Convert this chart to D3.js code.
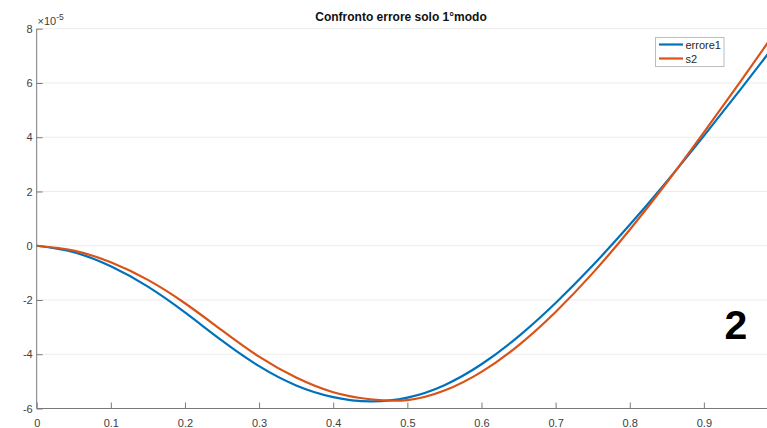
<!DOCTYPE html>
<html>
<head>
<meta charset="utf-8">
<script src="https://cdn.jsdelivr.net/npm/d3@7"></script>
<style>
  html, body { margin: 0; padding: 0; background: #fff; }
  svg { display: block; font-family: "Liberation Sans", Arial, Helvetica, sans-serif; }
</style>
</head>
<body>
<svg id="chart" width="767" height="428"></svg>
<script>
// Sample positions along the beam (normalised coordinate)
const xs = [0, 0.05, 0.1, 0.15, 0.2, 0.25, 0.3, 0.35, 0.4, 0.45, 0.5,
            0.55, 0.6, 0.65, 0.7, 0.75, 0.8, 0.85, 0.9, 0.95, 1.0];
// Error curves, in units of 1e-5
const errore1 = [0, -0.24, -0.76, -1.51, -2.46, -3.5, -4.44, -5.15, -5.58, -5.74, -5.6,
                 -5.14, -4.37, -3.34, -2.11, -0.73, 0.77, 2.37, 4.05, 5.78, 7.55];
const s2 = [0, -0.18, -0.61, -1.26, -2.12, -3.12, -4.09, -4.86, -5.4, -5.66, -5.69,
            -5.34, -4.65, -3.67, -2.44, -1.01, 0.59, 2.33, 4.18, 6.08, 8.02];
const seriesNames = ["errore1", "s2"];
const seriesColors = ["#0072BD", "#D95319"];
const xTicks = [0, 0.1, 0.2, 0.3, 0.4, 0.5, 0.6, 0.7, 0.8, 0.9];
const yTicks = [-6, -4, -2, 0, 2, 4, 6, 8];
const titleText = "Confronto errore solo 1°modo";
const panelLabel = "2";

const svg = d3.select("#chart");
const W = 767, H = 428;
const mLeft = 36.7, mTop = 28.7, mBottom = 408.5, plotRight = 778;

const x = d3.scaleLinear().domain([0, 1]).range([mLeft, plotRight]);
const y = d3.scaleLinear().domain([-6, 8]).range([mBottom, mTop]);

svg.append("rect").attr("width", W).attr("height", H).attr("fill", "#fff");

svg.append("defs").append("clipPath").attr("id", "plotClip")
  .append("rect").attr("x", mLeft).attr("y", mTop - 2)
  .attr("width", W - mLeft).attr("height", mBottom - mTop + 2);

// horizontal grid
svg.append("g")
  .selectAll("line").data(yTicks).join("line")
  .attr("x1", mLeft).attr("x2", W)
  .attr("y1", d => y(d)).attr("y2", d => y(d))
  .attr("stroke", "#ececec").attr("stroke-width", 1);

// x axis (ticks point inward)
const xAxis = svg.append("g")
  .attr("transform", `translate(0,${mBottom})`)
  .call(d3.axisBottom(x).tickValues(xTicks).tickSize(-6).tickPadding(11)
        .tickFormat(d => d === 0 ? "0" : d3.format(".1f")(d)));
xAxis.select(".domain").attr("stroke", "#7a7a7a").attr("d", `M${mLeft},0H${W}`);
xAxis.selectAll(".tick line").attr("stroke", "#7a7a7a");
xAxis.selectAll(".tick text").attr("fill", "#404040").attr("font-size", 11)
  .attr("font-family", "Liberation Sans, Arial, sans-serif");

// y axis
const yAxis = svg.append("g")
  .attr("transform", `translate(${mLeft},0)`)
  .call(d3.axisLeft(y).tickValues(yTicks).tickSize(-6).tickPadding(4)
        .tickFormat(d => d < 0 ? "-" + Math.abs(d) : String(d)));
yAxis.select(".domain").attr("stroke", "#7a7a7a").attr("d", `M0,${mTop}V${mBottom}`);
yAxis.selectAll(".tick line").attr("stroke", "#7a7a7a");
yAxis.selectAll(".tick text").attr("fill", "#404040").attr("font-size", 11)
  .attr("font-family", "Liberation Sans, Arial, sans-serif");

// exponent marker
const expo = svg.append("text").attr("x", 37.5).attr("y", 25)
  .attr("font-size", 11).attr("fill", "#404040");
expo.append("tspan").text("×10");
expo.append("tspan").attr("dy", -5).attr("font-size", 8.5).text("-5");

// curves
const line = d3.line().x((d, i) => x(xs[i])).y(d => y(d)).curve(d3.curveNatural);
const plot = svg.append("g").attr("clip-path", "url(#plotClip)");
[errore1, s2].forEach((vals, k) => {
  plot.append("path").datum(vals)
    .attr("d", line)
    .attr("fill", "none")
    .attr("stroke", seriesColors[k])
    .attr("stroke-width", 2.2)
    .attr("stroke-linejoin", "round");
});

// title
svg.append("text").attr("x", 401).attr("y", 21)
  .attr("text-anchor", "middle").attr("font-weight", "bold")
  .attr("font-size", 12).attr("fill", "#111").text(titleText);

// legend
const lg = svg.append("g");
lg.append("rect").attr("x", 655.5).attr("y", 37.5).attr("width", 68.5).attr("height", 29)
  .attr("fill", "#fff").attr("stroke", "#bdbdbd").attr("stroke-width", 1);
seriesNames.forEach((name, k) => {
  const yy = 44.5 + k * 14;
  lg.append("line").attr("x1", 659).attr("x2", 683).attr("y1", yy).attr("y2", yy)
    .attr("stroke", seriesColors[k]).attr("stroke-width", 2.2);
  lg.append("text").attr("x", 685.5).attr("y", yy + 4)
    .attr("font-size", 11).attr("fill", "#262626").text(name);
});

// panel number
svg.append("text").attr("x", 736).attr("y", 338.5)
  .attr("text-anchor", "middle").attr("font-weight", "bold")
  .attr("font-size", 41).attr("fill", "#000").text(panelLabel);
</script>
</body>
</html>
